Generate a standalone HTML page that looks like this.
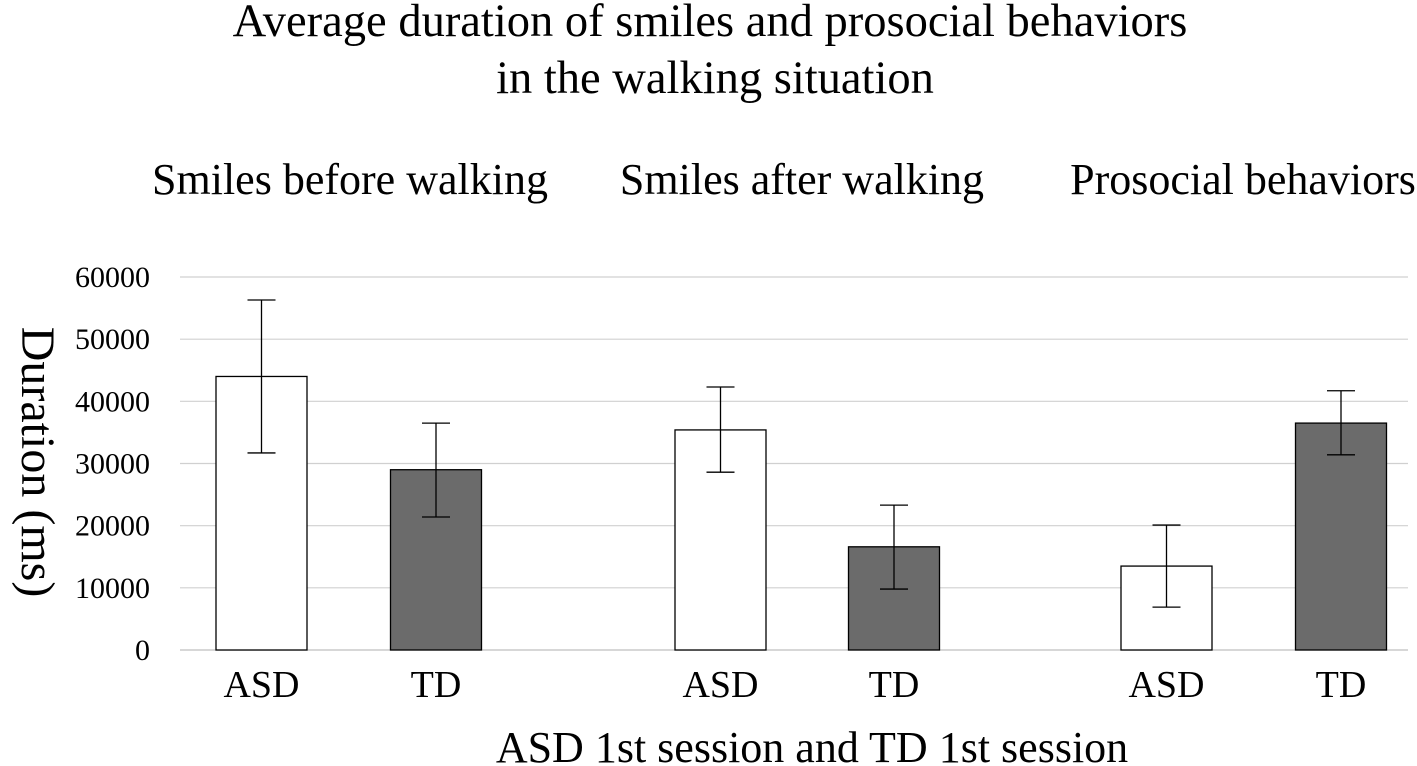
<!DOCTYPE html>
<html><head><meta charset="utf-8"><style>
body{margin:0;background:#fff}
svg{display:block;font-family:"Liberation Serif",serif}
</style></head><body>
<svg id="chart" width="1417" height="766">
<text x="710" y="36" font-size="46.5" text-anchor="middle">Average duration of smiles and prosocial behaviors</text>
<text x="715" y="93" font-size="46.5" text-anchor="middle">in the walking situation</text>
<text x="350" y="194" font-size="44" text-anchor="middle">Smiles before walking</text>
<text x="802" y="194" font-size="44" text-anchor="middle">Smiles after walking</text>
<text x="1243" y="194" font-size="44" text-anchor="middle">Prosocial behaviors</text>
<text transform="translate(22,462) rotate(90)" font-size="48" text-anchor="middle">Duration (ms)</text>
<text x="812" y="762" font-size="44" text-anchor="middle">ASD 1st session and TD 1st session</text>
<g id="grid"></g><g id="bars"></g>
</svg>
<script>
const categories=["ASD","TD","ASD","TD","ASD","TD"];
const means=[44000,29000,35400,16600,13500,36500];
const errUpper=[56300,36500,42300,23300,20100,41700];
const errLower=[31700,21400,28600,9800,6900,31400];
const ticks=[0,10000,20000,30000,40000,50000,60000];
const centers=[261.5,436,720.5,894,1166.5,1341];
const ns="http://www.w3.org/2000/svg";
const y0=650,yTop=277,yMax=60000;
const y=v=>y0-(v/yMax)*(y0-yTop);
const bw=91;
const grid=document.getElementById('grid'),bars=document.getElementById('bars');
function mk(tag,attrs,parent){const e=document.createElementNS(ns,tag);for(const k in attrs)e.setAttribute(k,attrs[k]);parent.appendChild(e);return e;}
ticks.forEach(t=>{
 const l=mk('line',{x1:180,x2:1408,y1:y(t),y2:y(t),stroke:t===0?'#bfbfbf':'#d0d0d0','stroke-width':1.2},grid);
 
 
 const tx=mk('text',{x:150,y:y(t)+10,'font-size':30,'text-anchor':'end'},grid);
 tx.textContent=t;
 
 
});
means.forEach((m,i)=>{
 const c=centers[i];
 const r=mk('rect',{x:c-bw/2,y:y(m),width:bw,height:y0-y(m),fill:i%2?'#6b6b6b':'#fff',stroke:'#000','stroke-width':1.3},bars);
 
 
 const g=mk('g',{stroke:'#000','stroke-width':1.3},bars);
 
 
 mk('line',{x1:c,x2:c,y1:y(errUpper[i]),y2:y(errLower[i])},g);
 mk('line',{x1:c-14,x2:c+14,y1:y(errUpper[i]),y2:y(errUpper[i])},g);
 mk('line',{x1:c-14,x2:c+14,y1:y(errLower[i]),y2:y(errLower[i])},g);
 const tx=mk('text',{x:c,y:697,'font-size':38,'text-anchor':'middle'},bars);
 tx.textContent=categories[i];
 
 
});
</script>
</body></html>
